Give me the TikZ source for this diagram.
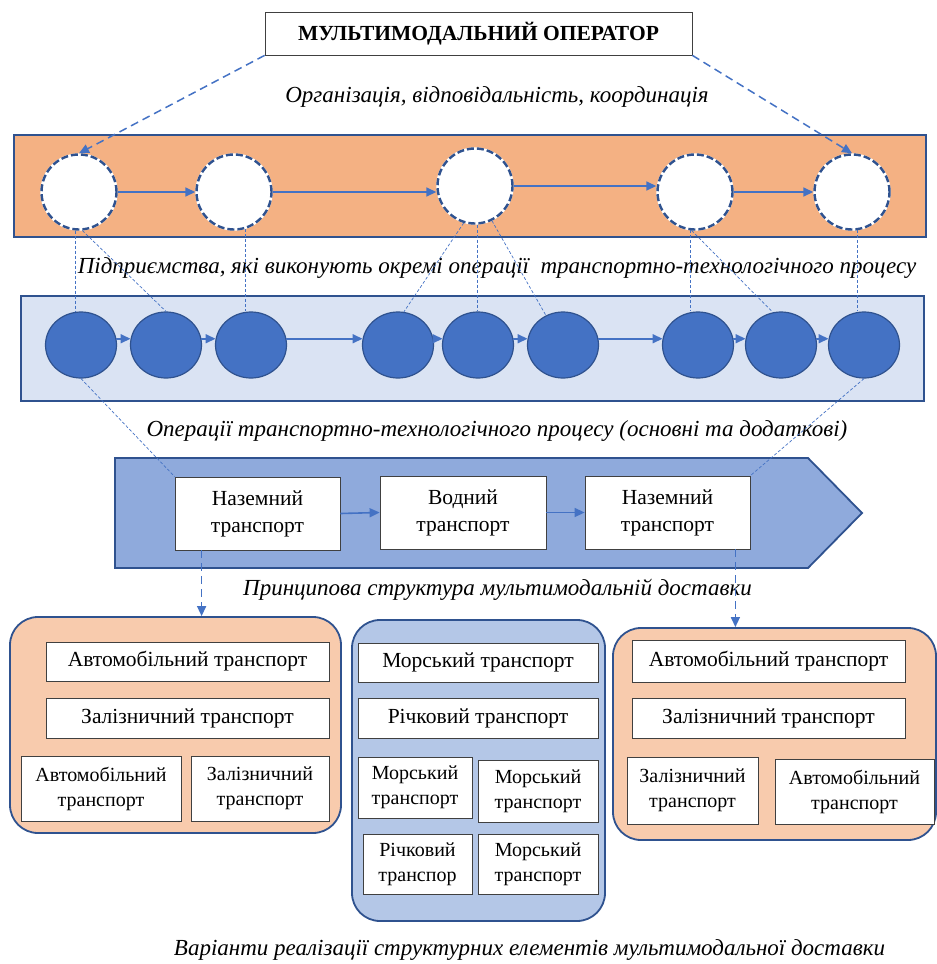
\documentclass[tikz,border=0pt]{standalone}
\usepackage{fontspec}
\setmainfont{Liberation Serif}
\usetikzlibrary{arrows.meta,calc,shapes.geometric}
\definecolor{orangeband}{HTML}{F4B183}
\definecolor{peach}{HTML}{F8CBAD}
\definecolor{lightblue}{HTML}{DAE3F3}
\definecolor{midblue}{HTML}{B4C7E7}
\definecolor{arrowblue}{HTML}{8FAADC}
\definecolor{accent}{HTML}{4472C4}
\definecolor{darkline}{HTML}{2F528F}
\begin{document}
\begin{tikzpicture}[x=1pt,y=-1pt,
  captxt/.style={font=\fontsize{23}{26}\selectfont\itshape, inner sep=0},
  wbox/.style={draw=black!75, line width=0.8pt, fill=white, inner sep=0, align=center, font=\fontsize{21.5}{25}\selectfont},
  twoline/.style={font=\fontsize{20}{25}\selectfont},
  modebox/.style={font=\fontsize{21.5}{27}\selectfont},
  ocirc/.style={circle, fill=white, draw=darkline, line width=2.4pt, dash pattern=on 7pt off 3pt, minimum size=75pt, inner sep=0, preaction={draw=white, solid}},
  fell/.style={ellipse, draw=darkline, line width=1.2pt, fill=accent, minimum width=71pt, minimum height=66pt, inner sep=0},
  flow/.style={draw=accent, line width=1.6pt, -{Triangle[length=10pt,width=9pt]}},
  dflow/.style={draw=accent, line width=1.5pt, dash pattern=on 8pt off 5pt, -{Triangle[length=10pt,width=9pt]}},
  thinlink/.style={draw=accent, line width=0.7pt, dash pattern=on 3pt off 2pt},
  band/.style={draw=darkline, line width=1.8pt, inner sep=0},
  rbox/.style={draw=darkline, line width=1.8pt, rounded corners=28pt, inner sep=0},
]
\useasboundingbox (0,0) rectangle (937,964);

% top operator
\node[wbox, font=\fontsize{21.5}{24}\selectfont\bfseries, minimum width=427pt, minimum height=43pt] (op) at (478.5,33.5) {МУЛЬТИМОДАЛЬНИЙ ОПЕРАТОР};
\node[captxt] (cap1) at (497,97) {Організація, відповідальність, координація};

% orange band with dashed circles
\node[band, fill=orangeband, minimum width=912pt, minimum height=102pt] (band1) at (470,186) {};
\node[ocirc] (c1) at (79,192) {};
\node[ocirc] (c2) at (234,192) {};
\node[ocirc] (c3) at (475,186) {};
\node[ocirc] (c4) at (695,192) {};
\node[ocirc] (c5) at (852,192) {};
\draw[flow] (c1.east) -- (c2.west);
\draw[flow] (c2.east) -- (c2.east -| c3.west);
\draw[flow] (c3.east) -- (c3.east -| c4.west);
\draw[flow] (c4.east) -- (c5.west);
\draw[dflow] (op.south west) -- (c1.north);
\draw[dflow] (op.south east) -- (c5.north);

\node[captxt] (cap2) at (497,268) {Підприємства, які виконують окремі операції\ \ транспортно-технологічного процесу};

% blue band with ellipses
\node[band, fill=lightblue, minimum width=903pt, minimum height=105pt] (band2) at (472.5,348.5) {};
\foreach \n/\x in {1/81,2/166,3/251,4/398,5/478,6/563,7/698,8/781,9/864}
  \node[fell] (e\n) at (\x,345) {};
\foreach \a/\b in {1/2,2/3,3/4,4/5,5/6,6/7,7/8,8/9}
  \draw[flow] (e\a.10) -- (e\b.170);

% thin links between circles and ellipses
\draw[thinlink] (c1.-95) -- (c1.-95 |- e1.north);
\draw[thinlink] (c1.-85) -- (e2.north);
\draw[thinlink] (c2.-73) -- (c2.-73 |- e3.north);
\draw[thinlink] (c3.-107) -- (e4.80);
\draw[thinlink] (c3.-87) -- (c3.-87 |- e5.north);
\draw[thinlink] (c3.-64) -- (e6.120);
\draw[thinlink] (c4.-97) -- (c4.-97 |- e7.north);
\draw[thinlink] (c4.-95) -- (e8.104);
\draw[thinlink] (c5.-82) -- (c5.-82 |- e9.north);

\node[captxt] (cap3) at (497,431) {Операції транспортно-технологічного процесу (основні та додаткові)};

% arrow band
\draw[band, fill=arrowblue] (115,458) -- (808,458) -- (862,513) -- (808,568) -- (115,568) -- cycle;
\node[wbox, modebox, minimum width=165pt, minimum height=73pt] (b1) at (257.5,513.5) {Наземний\\транспорт};
\node[wbox, modebox, minimum width=166pt, minimum height=73pt] (b2) at (463,512.5) {Водний\\транспорт};
\node[wbox, modebox, minimum width=165pt, minimum height=73pt] (b3) at (667.5,512.5) {Наземний\\транспорт};
\draw[flow] (b1.east) -- (b2.west);
\draw[flow] (b2.east) -- (b3.west);
\draw[thinlink] (e1.south) -- (b1.north west);
\draw[thinlink] (e9.south) -- (b3.north east);

\node[captxt] (cap4) at (497.5,590) {Принципова структура мультимодальній доставки};

% variant groups
\node[rbox, fill=peach, minimum width=331pt, minimum height=216pt] (L) at (175.5,725) {};
\node[rbox, fill=midblue, minimum width=253pt, minimum height=301pt] (M) at (478.5,770.5) {};
\node[rbox, fill=peach, minimum width=323pt, minimum height=212pt] (R) at (774.5,734) {};

\draw[dflow] ([xshift=27pt]b1.south west) -- ([xshift=27pt]b1.south west |- L.north);
\draw[dflow] ([xshift=-15pt]b3.south east) -- ([xshift=-15pt]b3.south east |- R.north);

\node[wbox, minimum width=283pt, minimum height=39pt] (L1) at (187.5,661.5) {Автомобільний транспорт};
\node[wbox, minimum width=283pt, minimum height=40pt] (L2) at (187.5,718) {Залізничний транспорт};
\node[wbox, twoline, minimum width=160pt, minimum height=65pt] (L3) at (101,788.5) {Автомобільний\\транспорт};
\node[wbox, twoline, minimum width=138pt, minimum height=65pt] (L4) at (260,788.5) {Залізничний\\транспорт};

\node[wbox, minimum width=240pt, minimum height=39pt] (M1) at (478,662.5) {Морський транспорт};
\node[wbox, minimum width=240pt, minimum height=40pt] (M2) at (478,718) {Річковий транспорт};
\node[wbox, twoline, minimum width=114pt, minimum height=61pt] (M3) at (415,787.5) {Морський\\транспорт};
\node[wbox, twoline, minimum width=120pt, minimum height=62pt] (M4) at (538,791) {Морський\\транспорт};
\node[wbox, twoline, minimum width=109pt, minimum height=60pt] (M5) at (417.5,864) {Річковий\\транспор};
\node[wbox, twoline, minimum width=120pt, minimum height=60pt] (M6) at (538,864) {Морський\\транспорт};

\node[wbox, minimum width=273pt, minimum height=42pt] (R1) at (768.5,661) {Автомобільний транспорт};
\node[wbox, minimum width=273pt, minimum height=40pt] (R2) at (768.5,718) {Залізничний транспорт};
\node[wbox, twoline, minimum width=131pt, minimum height=67pt] (R3) at (692.5,790.5) {Залізничний\\транспорт};
\node[wbox, twoline, minimum width=159pt, minimum height=65pt] (R4) at (854.5,791.5) {Автомобільний\\транспорт};

\node[captxt] (cap5) at (529.5,950) {Варіанти реалізації структурних елементів мультимодальної доставки};
\end{tikzpicture}
\end{document}
